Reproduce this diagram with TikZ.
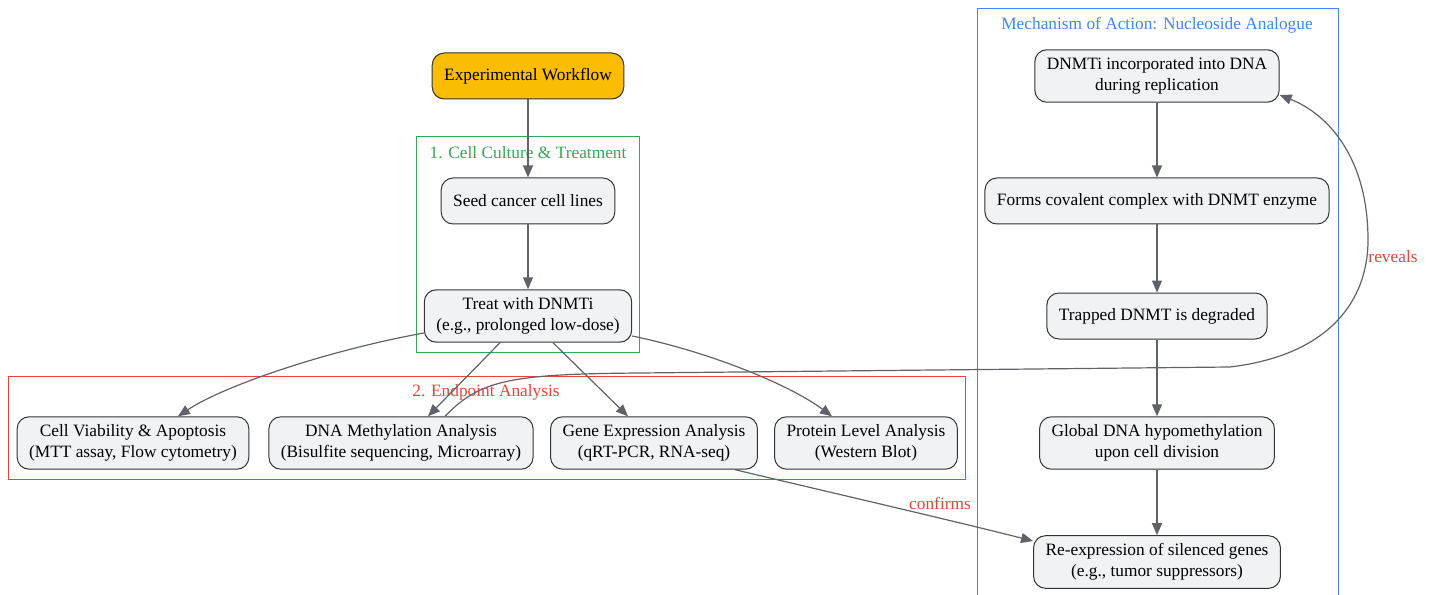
\documentclass[tikz,border=0pt]{standalone}
\usepackage{fontspec}
\setmainfont{Liberation Serif}
\usetikzlibrary{arrows.meta}

\definecolor{edgegray}{HTML}{5F6368}
\definecolor{boxfill}{HTML}{F1F2F4}
\definecolor{boxline}{HTML}{333333}
\definecolor{startfill}{HTML}{FBBC04}
\definecolor{grpgreen}{HTML}{34A853}
\definecolor{grpred}{HTML}{EA4335}
\definecolor{grpblue}{HTML}{4285F4}

\tikzset{
   stepbox/.style={
      draw=boxline,
      fill=boxfill,
      line width=.75pt,
      rounded corners=9pt,
      align=center,
      inner xsep=9pt,
      inner ysep=6pt,
      minimum height=34.5pt,
      font=\fontsize{13}{15.5}\selectfont
   },
   startbox/.style={stepbox, fill=startfill},
   group/.style={draw=#1, line width=.75pt},
   grouptitle/.style={text=#1, font=\fontsize{13}{15.5}\selectfont},
   flow/.style={
      draw=edgegray,
      line width=.9pt,
      -{Triangle[length=9pt,width=7.5pt]}
   },
   linklabel/.style={text=grpred, font=\fontsize{13}{15.5}\selectfont}
}

\begin{document}
\begin{tikzpicture}[x=0.75pt, y=-0.75pt]
   \useasboundingbox (0,0) rectangle (1434,595);

   % groups
   \draw[group=grpgreen] (416,137) rectangle (639,352);
   \node[grouptitle=grpgreen] (gcult) at (528,153) {1. Cell Culture \& Treatment};
   \draw[group=grpred] (8,376) rectangle (965,479);
   \node[grouptitle=grpred] (gend) at (486,392) {2. Endpoint Analysis};
   \draw[group=grpblue] (977,600) -- (977,9) -- (1338,9) -- (1338,600);
   \node[grouptitle=grpblue] (gmech) at (1157,25) {Mechanism of Action: Nucleoside Analogue};

   % workflow
   \node[startbox] (start) at (528,76) {Experimental Workflow};
   \node[stepbox] (seed) at (528,201) {Seed cancer cell lines};
   \node[stepbox] (treat) at (528,316) {Treat with DNMTi\\(e.g., prolonged low-dose)};

   \node[stepbox] (viab) at (133,443) {Cell Viability \& Apoptosis\\(MTT assay, Flow cytometry)};
   \node[stepbox] (meth) at (401,443) {DNA Methylation Analysis\\(Bisulfite sequencing, Microarray)};
   \node[stepbox] (expr) at (654,443) {Gene Expression Analysis\\(qRT-PCR, RNA-seq)};
   \node[stepbox] (prot) at (866,443) {Protein Level Analysis\\(Western Blot)};

   % mechanism
   \node[stepbox] (incorp) at (1157,76) {DNMTi incorporated into DNA\\during replication};
   \node[stepbox] (complex) at (1157,201) {Forms covalent complex with DNMT enzyme};
   \node[stepbox] (trap) at (1157,316) {Trapped DNMT is degraded};
   \node[stepbox] (hypo) at (1157,443) {Global DNA hypomethylation\\upon cell division};
   \node[stepbox] (reexp) at (1157,562) {Re-expression of silenced genes\\(e.g., tumor suppressors)};

   % connectors
   \draw[flow] (start) -- (seed);
   \draw[flow] (seed) -- (treat);
   \draw[flow] (treat.west |- 0,333) .. controls (330,350) and (225,385) .. (viab.north -| 178,0);
   \draw[flow] (treat.south -| 500,0) -- (meth.north -| 428,0);
   \draw[flow] (treat.south -| 553,0) -- (expr.north -| 628,0);
   \draw[flow] (treat.east |- 0,336) .. controls (710,352) and (790,385) .. (prot.north -| 832,0);

   \draw[flow] (incorp) -- (complex);
   \draw[flow] (complex) -- (trap);
   \draw[flow] (trap) -- (hypo);
   \draw[flow] (hypo) -- (reexp);

   \draw[flow] (meth.north -| 445,0) .. controls (480,380) and (510,374) .. (640,373)
      -- (1230,367) .. controls (1330,355) and (1368,300) .. (1368,240)
      .. controls (1368,160) and (1330,115) .. (incorp.east |- 0,95);
   \node[linklabel] (lrev) at (1393,257) {reveals};

   \draw[flow] (expr.south -| 735,0) .. controls (820,490) and (950,520) .. (reexp.west |- 0,541);
   \node[linklabel] (lconf) at (940,503) {confirms};
\end{tikzpicture}
\end{document}
